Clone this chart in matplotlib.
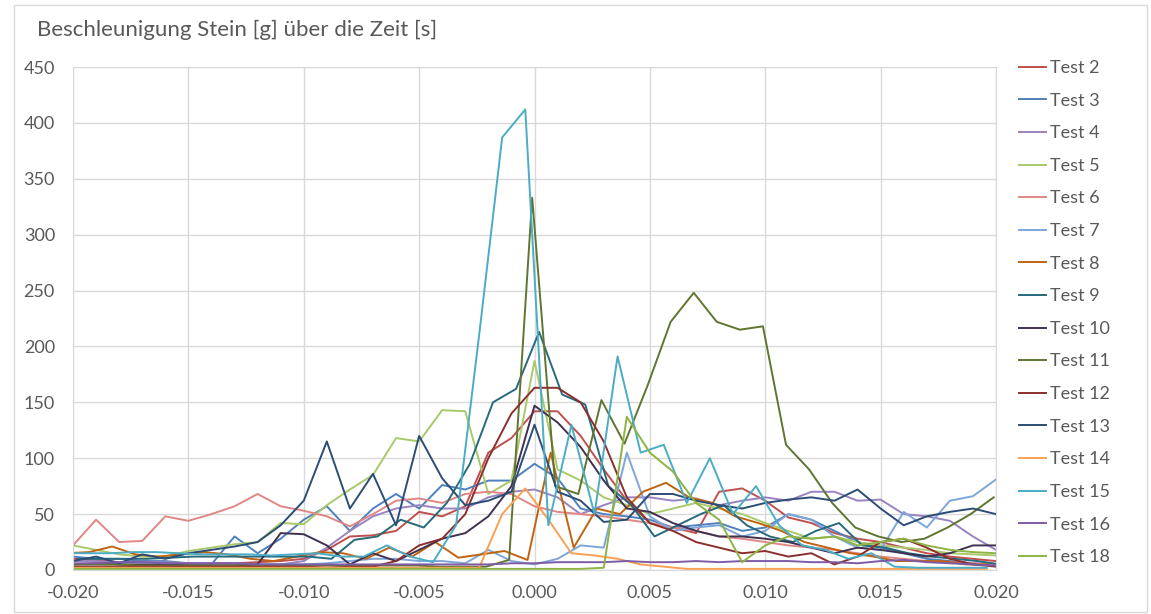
import numpy as np
import matplotlib.pyplot as plt
from matplotlib.patches import Rectangle

plt.rcParams['font.family'] = ['Lato', 'DejaVu Sans']
plt.rcParams['axes.unicode_minus'] = False

# time grid in ms, converted to s below
t_ms = np.arange(-20, 21)

names = ["Test 2", "Test 3", "Test 4", "Test 5", "Test 6", "Test 7", "Test 8", "Test 9",
         "Test 10", "Test 11", "Test 12", "Test 13", "Test 14", "Test 15", "Test 16", "Test 18"]
colors = ["#C0504D", "#4F81BD", "#9983C0", "#A9C96A", "#E08785", "#7FA6DB", "#C0640F", "#276A7C",
          "#403152", "#5F7530", "#8B2F2D", "#2C4D75", "#F9A055", "#4BACC6", "#7D5BA6", "#8DB445"]
# per-series time shift of the sample points (ms)
shift_ms = [0, 0, 0, 0, 0, 0, -0.3, 0.2, 0, -0.1, 0, 0, -0.4, -0.4, 0, 0]

test2 = [10, 9, 7, 8, 6, 5, 6, 6, 7, 8,
         10, 18, 30, 31, 35, 52, 48, 57, 105, 118,
         142, 142, 120, 90, 62, 42, 38, 33, 70, 73,
         62, 47, 42, 33, 28, 25, 20, 15, 12, 10, 8]
test3 = [12, 10, 10, 8, 8, 6, 5, 30, 15, 28,
         45, 57, 35, 55, 68, 55, 76, 72, 80, 80,
         95, 82, 55, 50, 48, 45, 38, 40, 42, 35,
         38, 50, 45, 35, 25, 20, 15, 10, 8, 6, 5]
test4 = [8, 8, 7, 7, 7, 6, 6, 6, 5, 5,
         8, 20, 35, 48, 55, 58, 55, 55, 65, 70,
         72, 65, 50, 58, 65, 65, 62, 64, 58, 62,
         65, 62, 70, 70, 62, 63, 50, 48, 44, 30, 18]
test5 = [22, 18, 14, 12, 12, 17, 20, 23, 25, 42,
         41, 58, 72, 85, 118, 115, 143, 142, 68, 80,
         187, 90, 80, 65, 58, 50, 55, 60, 55, 50,
         42, 35, 28, 30, 25, 22, 20, 18, 15, 14, 13]
test6 = [22, 45, 25, 26, 48, 44, 50, 57, 68, 57,
         53, 48, 39, 50, 62, 64, 60, 68, 70, 68,
         57, 52, 50, 48, 45, 42, 38, 35, 30, 28,
         25, 22, 20, 18, 15, 12, 10, 8, 7, 6, 5]
test7 = [5, 5, 5, 4, 4, 4, 4, 4, 5, 5,
         5, 6, 8, 10, 10, 8, 8, 6, 18, 8,
         5, 10, 22, 20, 105, 48, 35, 38, 40, 30,
         35, 50, 45, 30, 20, 18, 52, 38, 62, 66, 81]
test8 = [15, 16, 21, 14, 12, 14, 16, 14, 10, 8,
         12, 16, 15, 10, 20, 12, 25, 11, 14, 17,
         9, 105, 20, 55, 50, 70, 78, 65, 60, 48,
         42, 35, 25, 20, 15, 12, 8, 8, 8, 5, 5]
test9 = [10, 10, 10, 10, 11, 12, 12, 12, 12, 12,
         12, 10, 27, 30, 45, 38, 60, 95, 150, 162,
         213, 157, 148, 75, 58, 30, 40, 50, 58, 40,
         30, 25, 35, 42, 22, 20, 15, 12, 10, 8, 5]
test10 = [5, 6, 5, 5, 5, 4, 4, 4, 5, 33,
          32, 22, 5, 15, 8, 18, 28, 33, 48, 75,
          147, 132, 110, 80, 55, 52, 42, 35, 30, 30,
          28, 25, 20, 15, 20, 18, 15, 12, 15, 22, 22]
test11 = [5, 5, 5, 4, 4, 4, 4, 4, 4, 4,
          4, 4, 4, 4, 4, 4, 3, 3, 3, 9,
          333, 75, 68, 152, 113, 165, 222, 248, 222, 215,
          218, 112, 90, 60, 38, 30, 25, 28, 38, 50, 65]
test12 = [3, 3, 3, 3, 3, 3, 3, 3, 3, 3,
          3, 2, 3, 3, 8, 22, 28, 50, 100, 140,
          163, 163, 150, 115, 65, 42, 35, 25, 20, 15,
          17, 12, 15, 5, 12, 25, 28, 20, 10, 5, 3]
test13 = [8, 12, 6, 14, 10, 15, 18, 21, 25, 40,
          62, 115, 55, 86, 40, 120, 82, 58, 62, 70,
          130, 70, 62, 43, 45, 68, 68, 62, 58, 55,
          60, 63, 65, 62, 72, 55, 40, 48, 52, 55, 50]
test14 = [2, 2, 2, 2, 2, 2, 2, 2, 2, 2,
          2, 2, 2, 2, 2, 2, 2, 2, 2, 50,
          73, 45, 15, 13, 10, 5, 3, 1, 1, 1,
          1, 1, 1, 1, 1, 1, 1, 1, 1, 1, 1]
test15 = [15, 15, 15, 16, 16, 15, 14, 14, 14, 13,
          14, 15, 12, 12, 22, 12, 7, 40, 210, 387,
          412, 40, 130, 50, 191, 105, 112, 60, 100, 50,
          75, 40, 22, 18, 10, 15, 3, 2, 2, 2, 2]
test16 = [6, 6, 7, 7, 6, 6, 6, 6, 5, 5,
          5, 5, 5, 5, 5, 5, 5, 5, 5, 6,
          6, 7, 7, 7, 8, 7, 7, 8, 7, 8,
          8, 8, 7, 7, 6, 8, 9, 7, 6, 5, 4]
test18 = [1, 1, 1, 1, 1, 1, 1, 1, 1, 1,
          1, 1, 1, 1, 1, 1, 1, 1, 1, 1,
          1, 1, 1, 2, 137, 105, 88, 60, 45, 7,
          22, 30, 28, 30, 22, 25, 28, 22, 18, 16, 15]

series = [test2, test3, test4, test5, test6, test7, test8, test9,
          test10, test11, test12, test13, test14, test15, test16, test18]

fig = plt.figure(figsize=(11.51, 6.14), dpi=100)
ax = fig.add_axes([73 / 1151, 1 - 570 / 614, (996 - 73) / 1151, (570 - 67) / 614])

for name, col, sh, vals in zip(names, colors, shift_ms, series):
    ax.plot((t_ms + sh) / 1000.0, vals, color=col, lw=1.4, label=name)

ax.set_xlim(-0.020, 0.020)
ax.set_ylim(0, 450)
ax.set_xticks(np.arange(-0.020, 0.0201, 0.005))
ax.set_xticklabels([f"{v:.3f}" for v in np.arange(-0.020, 0.0201, 0.005)])
ax.set_yticks(range(0, 451, 50))
ax.grid(True, color="#D9D9D9", lw=1)
ax.set_axisbelow(True)
for s in ax.spines.values():
    s.set_color("#D9D9D9")
ax.tick_params(length=0, labelsize=13, labelcolor="#595959")
ax.tick_params(axis='y', pad=13)
ax.tick_params(axis='x', pad=11)

fig.text(37 / 1151, 1 - 30 / 614, "Beschleunigung Stein [g] über die Zeit [s]",
         fontsize=16, color="#595959", va='center', ha='left')

fig.legend(loc='upper left', bbox_to_anchor=(1019 / 1151, 1 - 60 / 614), frameon=False,
           fontsize=13, labelcolor="#595959", handlelength=1.5, handletextpad=0.2,
           labelspacing=0.92, borderpad=0, borderaxespad=0)

fig.add_artist(Rectangle((14 / 1151, 2 / 614), 1133 / 1151, 607 / 614, transform=fig.transFigure,
                         fill=False, edgecolor="#D9D9D9", lw=1))

fig.savefig("out.png", dpi=100)
